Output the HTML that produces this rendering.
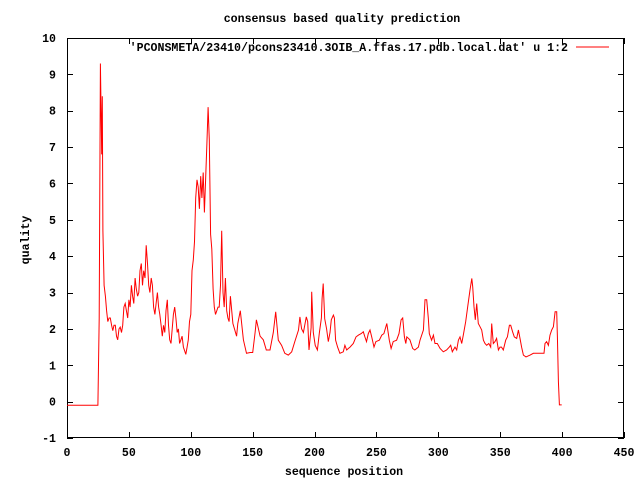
<!DOCTYPE html>
<html><head><meta charset="utf-8"><style>
html,body{margin:0;padding:0;background:#fff;}
svg text{font-family:"Liberation Mono",monospace;font-size:11.6px;font-weight:bold;fill:#000;}
</style></head><body>
<svg id="chart" width="640" height="480" viewBox="0 0 640 480">
<rect x="0" y="0" width="640" height="480" fill="#fff"/>
<g id="axes"></g>
<text x="342" y="22" text-anchor="middle">consensus based quality prediction</text>
<text x="344" y="475" text-anchor="middle">sequence position</text>
<text transform="translate(29,240) rotate(-90)" text-anchor="middle">quality</text>
<g>
<text x="568" y="51" text-anchor="end">'PCONSMETA/23410/pcons23410.3OIB_A.ffas.17.pdb.local.dat' u 1:2</text>
<line x1="576" y1="47" x2="609" y2="47" stroke="#f00" stroke-width="1"/>
</g>
<path id="series" fill="none" stroke="#f00" stroke-width="1"/>
</svg>
<script>
const xTicks=[0,50,100,150,200,250,300,350,400,450];
const yTicks=[-1,0,1,2,3,4,5,6,7,8,9,10];
const posX=[0,25,26,27,28,28.5,29,30,31,32,33,34,35,36,37,38,39,40,41,42,43,44,45,46,47,48,49,50,51,52,53,54,55,56,57,58,59,60,61,62,63,64,65,66,67,68,69,70,71,72,73,74,75,76,77,78,79,80,81,82,83,84,85,86,87,88,89,90,91,92,93,94,95,96,97,98,99,100,101,102,103,104,105,106,107,108,109,110,111,112,113,114,115,116,117,118,119,120,121,122,123,124,125,126,127,128,129,130,131,132,134,137,138,140,142.5,145,148,150,152,153,156,158.6,161,164,166.7,168.6,170.7,173.4,176,178.8,181.5,184,187,188.2,189.5,191,193.3,194.5,195.5,197.2,197.7,199,200.5,202.3,203.9,205.5,206.1,207,208.2,209.7,211.1,212.5,213.5,215.2,216,217,218.6,220.5,223.2,224.5,226,227.3,228.6,231.3,233.5,235.5,237.7,239.4,240.7,242,243.4,244.8,246.2,248,249.6,252.3,254.3,256,258.4,260.4,261.8,263.5,266.3,268.2,269.9,271.2,272.6,273.7,274.5,277,279.3,281,283.9,285.2,287.9,289.2,290.6,291.9,292.7,294.6,296,297.3,299.2,301.4,304,306.7,308.9,310,311.3,313.5,314.8,316.2,317.5,318.9,320.2,322.1,323.7,325.6,327,327.8,328.8,329.9,331,332.3,333.7,335,336.4,337.7,339.1,340.8,342.3,343.1,344.4,345.8,347.1,348.5,349.8,351,352.5,354.4,355.8,357.4,358.5,360,361.4,363.3,364.7,366,367.3,368.7,370.8,374.1,376.8,378.9,380.8,385.4,386.2,387.5,388.9,390.2,391.6,393,394.3,395.6,396.2,397,397.8,399.7];
const quality=[-0.1,-0.1,2.3,9.3,6.8,8.4,4.7,3.2,2.9,2.5,2.2,2.3,2.3,2.1,1.95,2.1,2.1,1.8,1.7,2.0,2.05,1.9,2.1,2.6,2.7,2.5,2.3,2.8,2.6,3.2,2.9,2.7,3.4,3.1,2.9,3.0,3.6,3.8,3.2,3.6,3.4,4.3,3.8,3.2,3.0,3.4,3.2,2.6,2.4,2.7,3.0,2.6,2.4,2.1,1.8,2.1,1.9,2.5,2.8,2.1,1.7,1.6,2.0,2.4,2.6,2.3,1.9,2.0,1.6,1.7,1.8,1.5,1.4,1.3,1.5,1.7,2.2,2.4,3.6,3.9,4.4,5.6,6.1,5.9,5.3,6.2,5.6,6.3,5.2,6.1,7.1,8.1,7.2,4.6,4.2,3.1,2.6,2.4,2.5,2.6,2.6,3.2,4.7,3.0,2.6,3.4,2.5,2.3,2.2,2.9,2.15,1.8,2.15,2.5,1.7,1.33,1.35,1.35,1.9,2.25,1.8,1.7,1.42,1.42,1.9,2.47,1.69,1.55,1.33,1.28,1.37,1.65,1.97,2.33,2.0,1.9,2.33,2.2,1.42,2.03,3.02,1.9,1.55,1.42,1.9,2.3,2.84,3.25,2.28,2.0,1.65,1.9,2.25,2.38,2.3,1.69,1.5,1.33,1.37,1.55,1.42,1.46,1.5,1.6,1.78,1.83,1.87,1.92,1.78,1.65,1.87,1.97,1.78,1.5,1.65,1.69,1.83,1.87,2.15,1.69,1.46,1.65,1.69,1.87,2.25,2.3,1.78,1.6,1.78,1.7,1.46,1.42,1.5,1.69,1.97,2.8,2.8,2.3,1.87,1.69,1.83,1.6,1.6,1.46,1.37,1.42,1.5,1.55,1.37,1.5,1.42,1.69,1.78,1.6,1.83,2.2,2.61,3.07,3.39,3.16,2.61,2.25,2.7,2.15,2.06,1.97,1.69,1.6,1.55,1.6,1.5,2.15,1.6,1.65,1.74,1.42,1.5,1.5,1.42,1.69,1.78,2.1,2.1,1.92,1.78,1.74,1.97,1.74,1.5,1.28,1.23,1.28,1.33,1.33,1.33,1.33,1.6,1.65,1.55,1.83,1.97,2.06,2.47,2.47,1.78,0.55,-0.09,-0.09];
const L=67,R=624,T=38,B=438,xMin=0,xMax=450,yMin=-1,yMax=10;
function sx(v){return L+(v-xMin)/(xMax-xMin)*(R-L);}
function sy(v){return B-(v-yMin)/(yMax-yMin)*(B-T);}
const NS='http://www.w3.org/2000/svg';
const ax=document.getElementById('axes');
function mk(tag,attrs){const e=document.createElementNS(NS,tag);for(const k in attrs)e.setAttribute(k,attrs[k]);return e;}
const frame=mk('rect',{x:L+0.5,y:T+0.5,width:R-L-1,height:B-T-1,fill:'none',stroke:'#000','stroke-width':1});


ax.appendChild(frame);
xTicks.forEach(t=>{const x=Math.round(sx(t))+0.5;
 const a=mk('line',{x1:x,y1:B,x2:x,y2:B-6,stroke:'#000'});
 
 
 ax.appendChild(a);
 const b=mk('line',{x1:x,y1:T,x2:x,y2:T+6,stroke:'#000'});
 
 
 ax.appendChild(b);
 const tx=mk('text',{x:sx(t),y:B+18,'text-anchor':'middle'});tx.textContent=t;
 
 
 ax.appendChild(tx);});
yTicks.forEach(t=>{const y=Math.round(sy(t))+0.5;
 const a=mk('line',{x1:L,y1:y,x2:L+6,y2:y,stroke:'#000'});
 
 
 ax.appendChild(a);
 const b=mk('line',{x1:R,y1:y,x2:R-6,y2:y,stroke:'#000'});
 
 
 ax.appendChild(b);
 const tx=mk('text',{x:56,y:sy(t)+4,'text-anchor':'end'});tx.textContent=t;
 
 
 ax.appendChild(tx);});
let d='';
posX.forEach((p,i)=>{d+=(i?'L':'M')+sx(p).toFixed(1)+' '+sy(quality[i]).toFixed(1);});
document.getElementById('series').setAttribute('d',d);
</script>
</body></html>
